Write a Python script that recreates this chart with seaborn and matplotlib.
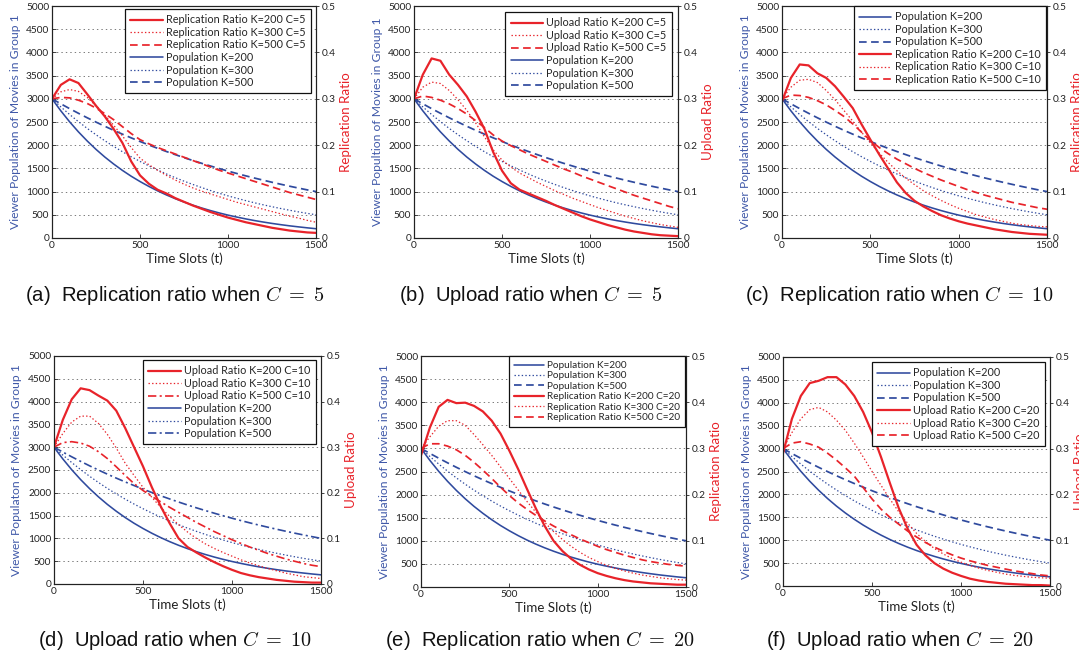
import numpy as np
import matplotlib
matplotlib.use("Agg")
import matplotlib.pyplot as plt
import seaborn as sns

# ---------------------------------------------------------------- data
time_slots = np.arange(0, 1501, 50)

# viewer population of movies in group 1 (shared by every panel)
pop_k200 = [3000, 2741, 2504, 2288, 2091, 1910, 1745, 1595, 1457, 1331, 1217,
            1112, 1016, 928, 848, 775, 708, 647, 591, 540, 493,
            451, 412, 376, 344, 314, 287, 262, 240, 219, 200]
pop_k300 = [3000, 2826, 2662, 2508, 2362, 2225, 2096, 1975, 1860, 1752, 1651,
            1555, 1465, 1380, 1300, 1225, 1154, 1087, 1024, 964, 908,
            856, 806, 759, 715, 674, 635, 598, 563, 531, 500]
pop_k500 = [3000, 2892, 2788, 2688, 2591, 2498, 2408, 2321, 2238, 2158, 2080,
            2005, 1933, 1864, 1797, 1732, 1670, 1610, 1552, 1496, 1442,
            1390, 1340, 1292, 1246, 1201, 1158, 1116, 1076, 1037, 1000]

# (a) replication ratio, C=5
repl_c5_k200 = [0.300, 0.330, 0.342, 0.334, 0.310, 0.285, 0.262, 0.235, 0.205, 0.165, 0.135,
                0.117, 0.104, 0.096, 0.086, 0.078, 0.070, 0.063, 0.056, 0.050, 0.044,
                0.039, 0.034, 0.030, 0.026, 0.022, 0.019, 0.016, 0.014, 0.012, 0.011]
repl_c5_k300 = [0.300, 0.315, 0.320, 0.316, 0.303, 0.285, 0.265, 0.243, 0.220, 0.195, 0.172,
                0.158, 0.146, 0.135, 0.125, 0.116, 0.108, 0.101, 0.095, 0.089, 0.083,
                0.077, 0.072, 0.067, 0.062, 0.057, 0.052, 0.047, 0.043, 0.038, 0.034]
repl_c5_k500 = [0.300, 0.303, 0.302, 0.297, 0.290, 0.280, 0.268, 0.255, 0.240, 0.225, 0.212,
                0.203, 0.195, 0.188, 0.181, 0.174, 0.167, 0.160, 0.153, 0.146, 0.140,
                0.134, 0.128, 0.122, 0.116, 0.110, 0.104, 0.098, 0.093, 0.088, 0.083]

# (b) upload ratio, C=5
upl_c5_k200 = [0.300, 0.352, 0.387, 0.382, 0.352, 0.330, 0.305, 0.272, 0.235, 0.185, 0.145,
               0.118, 0.104, 0.096, 0.088, 0.080, 0.071, 0.063, 0.055, 0.047, 0.040,
               0.034, 0.028, 0.023, 0.018, 0.014, 0.011, 0.008, 0.006, 0.005, 0.004]
upl_c5_k300 = [0.300, 0.325, 0.336, 0.333, 0.318, 0.298, 0.275, 0.248, 0.218, 0.190, 0.168,
               0.153, 0.140, 0.130, 0.120, 0.111, 0.102, 0.094, 0.086, 0.079, 0.072,
               0.065, 0.059, 0.053, 0.047, 0.042, 0.037, 0.033, 0.029, 0.026, 0.023]
upl_c5_k500 = [0.300, 0.306, 0.303, 0.297, 0.289, 0.279, 0.267, 0.253, 0.238, 0.222, 0.209,
               0.199, 0.190, 0.181, 0.173, 0.165, 0.157, 0.149, 0.142, 0.134, 0.127,
               0.120, 0.113, 0.106, 0.099, 0.092, 0.086, 0.080, 0.074, 0.068, 0.063]

# (c) replication ratio, C=10
repl_c10_k200 = [0.295, 0.345, 0.374, 0.372, 0.355, 0.345, 0.327, 0.304, 0.280, 0.245, 0.212,
                 0.180, 0.150, 0.120, 0.097, 0.080, 0.068, 0.058, 0.049, 0.042, 0.036,
                 0.031, 0.027, 0.023, 0.019, 0.016, 0.013, 0.011, 0.009, 0.008, 0.007]
repl_c10_k300 = [0.300, 0.325, 0.340, 0.342, 0.335, 0.318, 0.298, 0.275, 0.252, 0.228, 0.205,
                 0.183, 0.163, 0.145, 0.129, 0.115, 0.102, 0.091, 0.081, 0.072, 0.064,
                 0.057, 0.050, 0.045, 0.040, 0.036, 0.032, 0.029, 0.027, 0.025, 0.024]
repl_c10_k500 = [0.300, 0.308, 0.307, 0.303, 0.296, 0.287, 0.275, 0.262, 0.246, 0.228, 0.210,
                 0.195, 0.182, 0.170, 0.160, 0.150, 0.141, 0.133, 0.125, 0.118, 0.111,
                 0.104, 0.098, 0.092, 0.087, 0.082, 0.077, 0.073, 0.069, 0.065, 0.062]

# (d) upload ratio, C=10
upl_c10_k200 = [0.300, 0.360, 0.405, 0.429, 0.425, 0.413, 0.402, 0.380, 0.342, 0.300, 0.258,
                0.212, 0.170, 0.133, 0.100, 0.081, 0.069, 0.058, 0.048, 0.039, 0.031,
                0.024, 0.019, 0.015, 0.012, 0.009, 0.007, 0.005, 0.004, 0.003, 0.003]
upl_c10_k300 = [0.300, 0.330, 0.355, 0.368, 0.368, 0.352, 0.328, 0.298, 0.265, 0.238, 0.212,
                0.190, 0.168, 0.148, 0.130, 0.114, 0.100, 0.088, 0.078, 0.069, 0.061,
                0.053, 0.046, 0.040, 0.034, 0.029, 0.024, 0.020, 0.016, 0.014, 0.012]
upl_c10_k500 = [0.300, 0.310, 0.312, 0.309, 0.302, 0.290, 0.275, 0.257, 0.238, 0.220, 0.205,
                0.192, 0.180, 0.168, 0.157, 0.146, 0.135, 0.125, 0.115, 0.106, 0.097,
                0.089, 0.081, 0.074, 0.067, 0.061, 0.055, 0.050, 0.045, 0.041, 0.038]

# (e) replication ratio, C=20
repl_c20_k200 = [0.285, 0.345, 0.390, 0.405, 0.398, 0.399, 0.392, 0.380, 0.360, 0.332, 0.295,
                 0.255, 0.212, 0.170, 0.132, 0.100, 0.078, 0.061, 0.048, 0.038, 0.030,
                 0.024, 0.019, 0.015, 0.012, 0.010, 0.008, 0.007, 0.006, 0.005, 0.005]
repl_c20_k300 = [0.300, 0.325, 0.348, 0.360, 0.360, 0.350, 0.330, 0.308, 0.285, 0.260, 0.235,
                 0.210, 0.185, 0.162, 0.140, 0.120, 0.103, 0.088, 0.075, 0.064, 0.055,
                 0.047, 0.040, 0.035, 0.030, 0.026, 0.023, 0.020, 0.018, 0.016, 0.015]
repl_c20_k500 = [0.300, 0.310, 0.310, 0.305, 0.297, 0.285, 0.270, 0.253, 0.235, 0.216, 0.198,
                 0.182, 0.168, 0.155, 0.143, 0.132, 0.122, 0.113, 0.104, 0.096, 0.088,
                 0.081, 0.075, 0.069, 0.064, 0.059, 0.055, 0.052, 0.049, 0.047, 0.045]

# (f) upload ratio, C=20
upl_c20_k200 = [0.290, 0.365, 0.415, 0.443, 0.448, 0.456, 0.456, 0.440, 0.415, 0.380, 0.335,
                0.282, 0.225, 0.170, 0.125, 0.090, 0.067, 0.050, 0.038, 0.029, 0.022,
                0.016, 0.012, 0.009, 0.007, 0.005, 0.004, 0.003, 0.002, 0.002, 0.001]
upl_c20_k300 = [0.300, 0.335, 0.365, 0.385, 0.390, 0.380, 0.362, 0.340, 0.312, 0.282, 0.250,
                0.220, 0.190, 0.162, 0.137, 0.115, 0.097, 0.082, 0.070, 0.060, 0.052,
                0.045, 0.039, 0.034, 0.030, 0.026, 0.023, 0.021, 0.019, 0.018, 0.017]
upl_c20_k500 = [0.300, 0.312, 0.315, 0.310, 0.303, 0.290, 0.275, 0.258, 0.240, 0.215, 0.190,
                0.168, 0.150, 0.135, 0.120, 0.107, 0.095, 0.085, 0.076, 0.068, 0.061,
                0.055, 0.050, 0.045, 0.041, 0.037, 0.033, 0.030, 0.027, 0.024, 0.022]

k_values = [200, 300, 500]
x_ticks = [0, 500, 1000, 1500]
left_ticks = list(range(0, 5001, 500))
right_ticks = [0, 0.1, 0.2, 0.3, 0.4, 0.5]
right_tick_labels = ["0", "0.1", "0.2", "0.3", "0.4", "0.5"]

# ---------------------------------------------------------------- style
sns.set_style("ticks")
plt.rcParams["font.family"] = ["Lato", "DejaVu Sans"]
plt.rcParams["mathtext.fontset"] = "cm"
plt.rcParams["lines.scale_dashes"] = False

BLUE = "#2f4a9e"
RED = "#e8232a"
LABEL_BLUE = "#3f58a8"

STYLES = {
    "solid": "-",
    "dotted": (0, (1.0, 1.6)),
    "dashed": (0, (5.5, 3.2)),
    "dashdot": (0, (6.0, 2.4, 1.5, 2.4)),
}
WIDTHS = {"solid": 1.15, "dotted": 0.9, "dashed": 1.25, "dashdot": 1.2}

panels = [
    dict(rect=(0.0482, 0.6394, 0.2447, 0.3515), caption=r"(a)  Replication ratio when $C\;=\;5$",
         cap_xy=(0.162, 0.553), ylabel="Viewer Population of Movies in Group 1",
         rlabel="Replication Ratio", name="Replication Ratio", c=5,
         ratios=[repl_c5_k200, repl_c5_k300, repl_c5_k500], k500="dashed",
         ratio_first=True, leg=(0.981, 0.987), legsize=7.8),
    dict(rect=(0.3837, 0.6394, 0.2447, 0.3515), caption=r"(b)  Upload ratio when $C\;=\;5$",
         cap_xy=(0.492, 0.553), ylabel="Viewer Popultion of Movies in Group 1",
         rlabel="Upload Ratio", name="Upload Ratio", c=5,
         ratios=[upl_c5_k200, upl_c5_k300, upl_c5_k500], k500="dashed",
         ratio_first=True, leg=(0.977, 0.974), legsize=7.8),
    dict(rect=(0.7248, 0.6394, 0.2456, 0.3515), caption=r"(c)  Replication ratio when $C\;=\;10$",
         cap_xy=(0.833, 0.553), ylabel="Viewer Population of Movies in Group 1",
         rlabel="Replication Ratio", name="Replication Ratio", c=10,
         ratios=[repl_c10_k200, repl_c10_k300, repl_c10_k500], k500="dashed",
         ratio_first=False, leg=(0.996, 1.0), legsize=7.8),
    dict(rect=(0.0500, 0.1152, 0.2475, 0.3455), caption=r"(d)  Upload ratio when $C\;=\;10$",
         cap_xy=(0.162, 0.030), ylabel="Viewer Populaton of Movies in Group 1",
         rlabel="Upload Ratio", name="Upload Ratio", c=10,
         ratios=[upl_c10_k200, upl_c10_k300, upl_c10_k500], k500="dashdot",
         ratio_first=True, leg=(0.981, 0.982), legsize=7.8),
    dict(rect=(0.3902, 0.1106, 0.2456, 0.3500), caption=r"(e)  Replication ratio when $C\;=\;20$",
         cap_xy=(0.500, 0.030), ylabel="Viewer Population of Movies in Group 1",
         rlabel="Replication Ratio", name="Replication Ratio", c=20,
         ratios=[repl_c20_k200, repl_c20_k300, repl_c20_k500], k500="dashed",
         ratio_first=False, leg=(0.996, 1.0), legsize=7.2),
    dict(rect=(0.7257, 0.1121, 0.2475, 0.3470), caption=r"(f)  Upload ratio when $C\;=\;20$",
         cap_xy=(0.834, 0.030), ylabel="Viewer Population of Movies in Group 1",
         rlabel="Upload Ratio", name="Upload Ratio", c=20,
         ratios=[upl_c20_k200, upl_c20_k300, upl_c20_k500], k500="dashed",
         ratio_first=False, leg=(0.981, 0.978), legsize=7.8),
]

fig = plt.figure(figsize=(10.79, 6.60), dpi=100)
fig.patch.set_facecolor("white")


def draw_panel(p):
    ax = fig.add_axes(p["rect"])
    ax2 = ax.twinx()
    kinds = ["solid", "dotted", p["k500"]]

    pop_handles = []
    for k, vals, kind in zip(k_values, [pop_k200, pop_k300, pop_k500], kinds):
        sns.lineplot(x=time_slots, y=vals, ax=ax, color=BLUE, linewidth=WIDTHS[kind],
                     linestyle=STYLES[kind], legend=False, errorbar=None,
                     label=f"Population K={k}")
        pop_handles.append(ax.get_lines()[-1])

    ratio_handles = []
    for k, vals, kind in zip(k_values, p["ratios"], kinds):
        lw = 1.6 if kind == "solid" else WIDTHS[kind]
        sns.lineplot(x=time_slots, y=vals, ax=ax2, color=RED, linewidth=lw,
                     linestyle=STYLES[kind], legend=False, errorbar=None,
                     label=f"{p['name']} K={k} C={p['c']}")
        ratio_handles.append(ax2.get_lines()[-1])

    ax.set_xlim(0, 1500)
    ax.set_ylim(0, 5000)
    ax2.set_ylim(0, 0.5)
    ax.set_xticks(x_ticks)
    ax.set_yticks(left_ticks)
    ax2.set_yticks(right_ticks)
    ax2.set_yticklabels(right_tick_labels)
    ax.set_xlabel("")
    ax.set_ylabel("")
    ax2.set_ylabel("")

    ax.yaxis.grid(True, linestyle=(0, (1, 2.2)), color="#7a7a7a", linewidth=0.7)
    ax.xaxis.grid(False)

    ax.tick_params(axis="both", direction="in", length=3, width=0.6, pad=2,
                   labelsize=7.3, colors="#222222")
    ax2.tick_params(axis="y", direction="out", length=2.5, width=0.6, pad=1.5,
                    labelsize=7.3, colors="#222222")
    for a in (ax, ax2):
        for s in a.spines.values():
            s.set_linewidth(0.8)
            s.set_color("#222222")

    ax.set_xlabel("Time Slots (t)", fontsize=9.6, labelpad=2, color="#222222")
    ax.text(-37 / (p["rect"][2] * 1079), 0.5, p["ylabel"], transform=ax.transAxes,
            rotation=90, ha="center", va="center", fontsize=8.7, color=LABEL_BLUE)
    ax2.text(1 + 30 / (p["rect"][2] * 1079), 0.5, p["rlabel"], transform=ax2.transAxes,
             rotation=90, ha="center", va="center", fontsize=9.6, color=RED)

    handles = ratio_handles + pop_handles if p["ratio_first"] else pop_handles + ratio_handles
    leg = ax2.legend(handles=handles, labels=[h.get_label() for h in handles],
                     loc="upper right", bbox_to_anchor=p["leg"], fontsize=p["legsize"],
                     frameon=True, fancybox=False, framealpha=1, edgecolor="#111111",
                     handlelength=3.0, handletextpad=0.3, labelspacing=0.14,
                     borderpad=0.5, borderaxespad=0)
    leg.get_frame().set_linewidth(0.9)

    fig.text(p["cap_xy"][0], p["cap_xy"][1], p["caption"], ha="center", va="center",
             fontsize=14.6, family="Liberation Sans", color="#111111")


for p in panels:
    draw_panel(p)

fig.savefig("out.png", dpi=100, facecolor="white")
